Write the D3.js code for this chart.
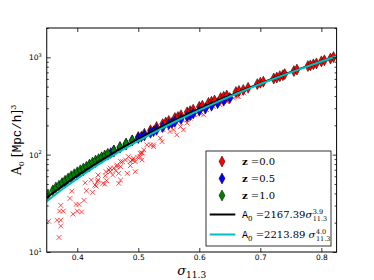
<!DOCTYPE html>
<html>
<head>
<meta charset="utf-8">
<script src="https://cdn.jsdelivr.net/npm/d3@7"></script>
<style>
  body { margin: 0; background: #fff; }
  .tick text { font-family: "DejaVu Sans", sans-serif; font-size: 7.5px; fill: #000; }
  .tick line { stroke: #000; stroke-width: 0.8; }
</style>
</head>
<body>
<div id="chart"></div>
<script>
// axis ticks
var xTicks = [0.4, 0.5, 0.6, 0.7, 0.8];
var yMajor = [10, 100, 1000];

// fit curves, A0 read along sigma
var fitSigma = [0.35, 0.36, 0.37, 0.38, 0.39, 0.40, 0.41, 0.42, 0.43, 0.44, 0.45, 0.46, 0.47, 0.48, 0.49, 0.50,
                0.52, 0.54, 0.56, 0.58, 0.60, 0.62, 0.64, 0.66, 0.68, 0.70, 0.72, 0.74, 0.76, 0.78, 0.80, 0.82, 0.825];
var fitBlack = [36.1, 40.3, 44.9, 49.8, 55.1, 60.8, 66.9, 73.5, 80.6, 88.2, 96.3, 104.9, 114.0, 123.8, 134.2, 145.2,
                169.2, 196.0, 225.9, 259.0, 295.6, 335.9, 380.2, 428.7, 481.7, 539.3, 601.9, 669.9, 743.2, 822.5, 907.8, 999.5, 1023.5];
var fitCyan = [33.2, 37.2, 41.5, 46.2, 51.2, 56.7, 62.6, 68.9, 75.7, 83.0, 90.8, 99.1, 108.0, 117.5, 127.6, 138.4,
               161.9, 188.3, 217.7, 250.6, 286.9, 327.1, 371.5, 420.1, 473.4, 531.6, 594.9, 663.9, 738.6, 819.5, 906.8, 1000.9, 1025.5];

// z = 0.0 diamonds [sigma, A0]
var red = [[0.46,108],[0.48,128],[0.50,152],[0.51,164],[0.52,178],[0.53,192],[0.54,206],[0.545,214],[0.55,222],
           [0.56,238],[0.565,244],[0.57,254],[0.58,272],[0.585,280],[0.59,290],[0.60,310],[0.605,318],[0.615,340],
           [0.62,350],[0.625,360],[0.635,382],[0.64,394],[0.645,404],[0.66,440],[0.665,452],[0.672,462],[0.68,486],
           [0.695,530],[0.70,548],[0.705,562],[0.722,606],[0.727,620],[0.732,640],[0.737,655],[0.74,672],[0.755,722],
           [0.76,748],[0.778,812],[0.782,826],[0.787,846],[0.792,866],[0.80,908],[0.805,930],[0.815,972],[0.82,1005]];
// z = 0.5 diamonds
var blue = [[0.38,52],[0.39,58],[0.40,63],[0.41,69],[0.42,76],[0.43,84],[0.44,92],[0.45,100],[0.455,104],[0.46,110],
            [0.47,118],[0.48,128],[0.49,140],[0.50,148],[0.505,153],[0.51,157],[0.52,168],[0.525,174],[0.53,180],
            [0.54,192],[0.55,205],[0.555,211],[0.56,218],[0.57,232],[0.58,247],[0.585,254],[0.59,264],[0.60,282],
            [0.61,298],[0.62,318],[0.63,338],[0.64,358],[0.65,382]];
// z = 1.0 diamonds
var green = [[0.352,39],[0.36,43],[0.365,46],[0.37,48],[0.375,51],[0.38,54],[0.385,57],[0.39,60],[0.395,63],[0.40,66],
             [0.405,69],[0.41,72],[0.415,75],[0.42,79],[0.425,83],[0.43,87],[0.435,90],[0.44,94],[0.445,98],[0.45,102],
             [0.46,110],[0.47,120],[0.48,130],[0.49,140]];
// red crosses below the relation
var crosses = [[0.370,14.1],[0.353,20.7],[0.373,30.1],[0.371,26.3],[0.377,26.3],[0.367,21.2],[0.373,21.2],[0.373,18.5],
               [0.388,35.5],[0.391,42.2],[0.393,24.5],[0.398,30.8],[0.403,30.8],[0.400,26.3],[0.407,25.8],[0.411,33.9],
               [0.413,51.4],[0.415,42.5],[0.425,41.0],[0.423,54.8],[0.433,52.7],[0.434,61.8],[0.431,47.5],[0.445,49.9],
               [0.447,66.8],[0.452,69.5],[0.458,61.8],[0.446,60.7],[0.448,54.0],[0.442,50.7],[0.429,48.7],[0.434,54.8],
               [0.454,66.8],[0.463,68.4],[0.465,78.3],[0.468,64.3],[0.471,75.2],[0.474,84.7],[0.479,88.1],[0.482,64.3],
               [0.487,77.1],[0.490,88.1],[0.492,88.1],[0.495,66.8],[0.499,94.0],[0.503,103.3],[0.506,104.9],[0.514,126],
               [0.525,126],[0.539,136],[0.468,50.7],[0.471,54.8],[0.536,147.6],[0.541,179.8],[0.552,172.7],[0.555,202],
               [0.525,120.8],[0.520,126],[0.506,103.3],[0.503,95.3],[0.492,91.8],[0.484,95.3],[0.487,84.7],[0.471,84.7],
               [0.465,75.2],[0.460,72.4],[0.454,72.4],[0.506,88.1],[0.495,84.7],[0.509,111.7],[0.561,218.6],[0.558,179.8],
               [0.569,194.5],[0.574,179.8],[0.580,211],[0.572,228],[0.585,237],[0.593,256.5],[0.601,267],[0.612,289],
               [0.607,256.5],[0.623,312.6],[0.634,325],[0.645,351.6],[0.656,381],[0.664,396],[0.563,159.6],[0.580,228],
               [0.591,256.5],[0.602,277],[0.646,351.6],[0.662,396],[0.673,430]];

var svgWidth = 374, svgHeight = 280;
var margin = { top: 28, left: 46.75, right: 37.4, bottom: 28 };
var width = svgWidth - margin.left - margin.right;
var height = svgHeight - margin.top - margin.bottom;

var svg = d3.select("#chart").append("svg")
    .attr("width", svgWidth)
    .attr("height", svgHeight);

var g = svg.append("g")
    .attr("transform", `translate(${margin.left}, ${margin.top})`);

var x = d3.scaleLinear().domain([0.35, 0.825]).range([0, width]);
var y = d3.scaleLog().domain([10, 2000]).range([height, 0]);

var yMinor = y.ticks().filter(v => yMajor.indexOf(v) < 0);

g.append("clipPath").attr("id", "clip")
  .append("rect").attr("width", width).attr("height", height);

var plot = g.append("g").attr("clip-path", "url(#clip)");

// crosses
var cs = 2.4;
plot.selectAll("path.cross")
    .data(crosses)
    .enter().append("path")
    .attr("class", "cross")
    .attr("d", d => {
        var px = x(d[0]), py = y(d[1]);
        return `M${px-cs},${py-cs}L${px+cs},${py+cs}M${px-cs},${py+cs}L${px+cs},${py-cs}`;
    })
    .attr("stroke", "#ff0000")
    .attr("stroke-width", 0.7)
    .attr("fill", "none");

// diamonds
function diamond(w, h) { return `M0,${-h}L${w},0L0,${h}L${-w},0Z`; }
[[red, "#ff0000"], [blue, "#0000ff"], [green, "#008000"]].forEach(function(s) {
    plot.selectAll(null)
        .data(s[0])
        .enter().append("path")
        .attr("d", diamond(3, 5.5))
        .attr("transform", d => `translate(${x(d[0])},${y(d[1])})`)
        .attr("fill", s[1])
        .attr("stroke", "#000")
        .attr("stroke-width", 0.5);
});

// fit lines
var fitLine = function(vals) {
    return d3.line()
        .x((d, i) => x(fitSigma[i]))
        .y((d, i) => y(vals[i]))
        .curve(d3.curveMonotoneX)(vals);
};
plot.append("path").attr("d", fitLine(fitBlack))
    .attr("fill", "none").attr("stroke", "#000").attr("stroke-width", 2);
plot.append("path").attr("d", fitLine(fitCyan))
    .attr("fill", "none").attr("stroke", "#00bfbf").attr("stroke-width", 2);

// axes, ticks pointing inwards
g.append("g").attr("transform", `translate(0, ${height})`)
    .call(d3.axisBottom(x).tickValues(xTicks).tickSize(-4).tickPadding(3).tickFormat(d3.format(".1f")));
g.append("g")
    .call(d3.axisTop(x).tickValues(xTicks).tickSize(-4).tickFormat(""));

g.append("g").call(d3.axisLeft(y).tickValues(yMajor).tickSize(-4).tickFormat(""));
g.append("g").call(d3.axisLeft(y).tickValues(yMinor).tickSize(-2).tickFormat(""));
g.append("g").attr("transform", `translate(${width}, 0)`)
    .call(d3.axisRight(y).tickValues(yMajor).tickSize(-4).tickFormat(""));
g.append("g").attr("transform", `translate(${width}, 0)`)
    .call(d3.axisRight(y).tickValues(yMinor).tickSize(-2).tickFormat(""));

g.selectAll(".domain").remove();

// y tick labels 10^n
yMajor.forEach(function(v) {
    var t = g.append("text")
        .attr("x", -5)
        .attr("y", y(v) + 3)
        .attr("text-anchor", "end")
        .style("font-family", "DejaVu Sans, sans-serif")
        .style("font-size", "7.5px");
    t.append("tspan").text("10");
    t.append("tspan").attr("dy", -3.5).style("font-size", "5px").text(Math.round(Math.log10(v)));
});

// frame
g.append("rect")
    .attr("width", width)
    .attr("height", height)
    .attr("fill", "none")
    .attr("stroke", "#000")
    .attr("stroke-width", 1);

// axis labels
var xl = svg.append("text")
    .attr("x", margin.left + width / 2)
    .attr("y", 275)
    .attr("text-anchor", "middle")
    .style("font-family", "DejaVu Serif, serif");
xl.append("tspan").style("font-style", "italic").style("font-size", "13px").text("σ");
xl.append("tspan").attr("dy", 3).style("font-size", "9px").text("11.3");

var yl = svg.append("text")
    .attr("transform", `translate(21, ${margin.top + height / 2}) rotate(-90)`)
    .attr("text-anchor", "middle")
    .style("font-family", "DejaVu Serif, serif")
    .style("font-size", "12.5px");
yl.append("tspan").text("A");
yl.append("tspan").attr("dy", 3).style("font-size", "8px").text("0");
yl.append("tspan").attr("dy", -3).text(" [");
yl.append("tspan").style("font-family", "Liberation Mono, monospace").text("Mpc/h");
yl.append("tspan").text("]");
yl.append("tspan").attr("dy", -5).style("font-size", "8px").text("3");

// legend
var legend = svg.append("g").attr("transform", "translate(206, 151)");
legend.append("rect")
    .attr("width", 125).attr("height", 95)
    .attr("fill", "#fff").attr("stroke", "#000").attr("stroke-width", 0.8);

var zLabels = ["0.0", "0.5", "1.0"];
var zColors = ["#ff0000", "#0000ff", "#008000"];
var rowY = [10.5, 27.5, 44.5, 63.5, 83.5];

zLabels.forEach(function(z, i) {
    legend.append("path")
        .attr("d", diamond(3, 5.5))
        .attr("transform", `translate(16, ${rowY[i]})`)
        .attr("fill", zColors[i]).attr("stroke", "#000").attr("stroke-width", 0.5);
    var t = legend.append("text")
        .attr("x", 36).attr("y", rowY[i] + 3.5)
        .style("font-family", "DejaVu Serif, serif")
        .style("font-size", "10px");
    t.append("tspan").style("font-weight", "bold").text("z");
    t.append("tspan").text(" =" + z);
});

var fits = [["#000", "2167.39", "3.9"], ["#00bfbf", "2213.89", "4.0"]];
fits.forEach(function(f, i) {
    var ry = rowY[3 + i];
    legend.append("line")
        .attr("x1", 3.7).attr("x2", 29.3).attr("y1", ry).attr("y2", ry)
        .attr("stroke", f[0]).attr("stroke-width", 2);
    var t = legend.append("text")
        .attr("x", 36).attr("y", ry + 3.5)
        .style("font-family", "DejaVu Serif, serif")
        .style("font-size", "10px");
    t.append("tspan").style("font-family", "Liberation Mono, monospace").text("A");
    t.append("tspan").attr("dy", 2.5).style("font-size", "7px").text("0");
    t.append("tspan").attr("dy", -2.5).text(" =" + f[1]);
    t.append("tspan").style("font-style", "italic").text(i === 1 ? " σ" : "σ");
    var end = 36 + t.node().getComputedTextLength() + 0.5;
    legend.append("text")
        .attr("x", end).attr("y", ry - 1)
        .style("font-family", "DejaVu Serif, serif").style("font-size", "6.5px")
        .text(f[2]);
    legend.append("text")
        .attr("x", end).attr("y", ry + 6)
        .style("font-family", "DejaVu Serif, serif").style("font-size", "6.5px")
        .text("11.3");
});
</script>
</body>
</html>
